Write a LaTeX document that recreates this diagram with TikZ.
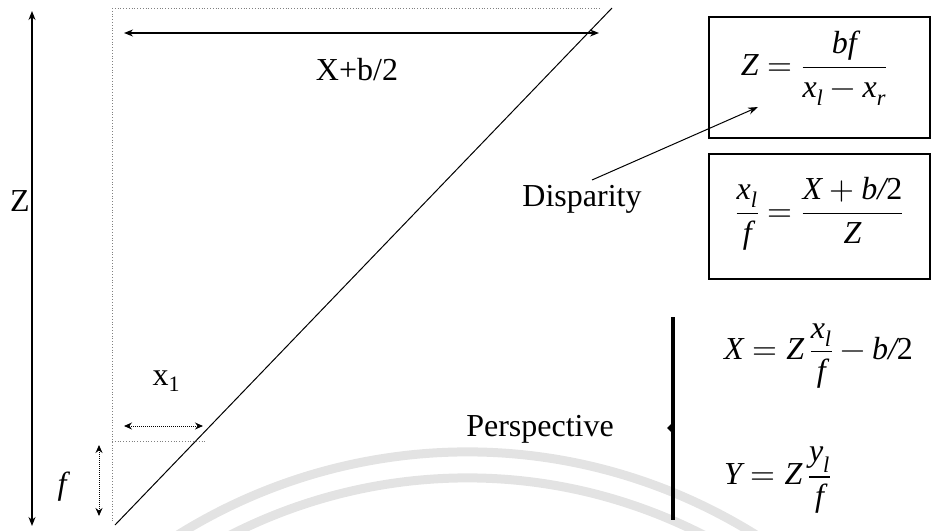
\documentclass[tikz,border=0pt]{standalone}
\usepackage{amsmath}
\usepackage{fontspec}
\usepackage{unicode-math}
\setmainfont{Liberation Serif}[ItalicFont={Liberation Serif Italic}]
\setmathfont{Latin Modern Math}
\newcommand{\mi}[1]{\textit{#1}}
\newcommand{\mup}[1]{\textup{#1}}
\usetikzlibrary{arrows.meta}
\tikzset{
  lbl/.style={inner sep=0pt, font=\fontsize{32}{38}\selectfont},
  eqn/.style={inner sep=0pt, font=\fontsize{32}{38}\selectfont},
  dimarrow/.style={line width=1.3pt, {Stealth[length=9pt,width=7pt]}-{Stealth[length=9pt,width=7pt]}},
  smallarrow/.style={line width=1pt, densely dotted, {Stealth[length=8pt,width=7pt]}-{Stealth[length=8pt,width=7pt]}},
  guide/.style={line width=0.8pt, gray, dotted},
  eqbox/.style={draw, line width=1.5pt, minimum width=221pt, minimum height=121pt, inner sep=0pt},
  wmark/.style={line width=9pt, gray!22},
}
\begin{document}
\begin{tikzpicture}[x=1pt,y=-1pt]
  \useasboundingbox (0,0) rectangle (936,530);
  % watermark
  \begin{scope}
    \clip (0,0) rectangle (936,530);
    \draw[wmark] (467,997) ++(-152:545) arc[start angle=-152, end angle=-28, radius=545];
    \draw[wmark] (467,997) ++(-152:519) arc[start angle=-152, end angle=-28, radius=519];
  \end{scope}
  % coordinates
  \coordinate (zt) at (32,11);
  \coordinate (zb) at (32,526);
  \coordinate (vt) at (112,8);
  \coordinate (vb) at (112,522);
  \coordinate (ht) at (600,8);
  \coordinate (d0) at (115,525);
  \coordinate (d1) at (612,8);
  \coordinate (xl) at (124,33);
  \coordinate (xr) at (599,33);
  \coordinate (sl) at (124,426);
  \coordinate (sr) at (203,426);
  \coordinate (hl) at (112,441);
  \coordinate (hr) at (205,441);
  \coordinate (ft) at (99,445);
  \coordinate (fb) at (99,516);
  \coordinate (bt) at (673,317);
  \coordinate (bb) at (673,520);
  \coordinate (dtip) at (758,107);
  % lines
  \draw[dimarrow] (zt) -- (zb);
  \draw[guide] (vt) -- (vb);
  \draw[guide] (vt) -- (ht);
  \draw[line width=1pt] (d0) -- (d1);
  \draw[dimarrow] (xl) -- (xr);
  \draw[smallarrow] (sl) -- (sr);
  \draw[guide] (hl) -- (hr);
  \draw[smallarrow] (ft) -- (fb);
  \draw[line width=3.5pt] (bt) -- (bb);
  \fill (671,424) -- (667,428) -- (671,432) -- cycle;
  % labels
  \node[lbl] (zlab) at (20,201) {Z};
  \node[lbl] (xblab) at (357,70) {X+b/2};
  \node[lbl] (x1lab) at (166,381) {x\raisebox{-0.2em}{\fontsize{22}{26}\selectfont 1}};
  \node[lbl] (flab) at (64,487) {\mi{f}};
  \node[lbl] (disp) at (582,199) {Disparity};
  \node[lbl] (persp) at (540,429) {Perspective};
  % boxes
  \node[eqbox] (box1) at (819.5,77.5) {};
  \node[eqn] (eq1) at (814,68) {$\displaystyle \mi{Z}=\frac{\mi{bf}}{\mi{x}_{\mi{l}}-\mi{x}_{\mi{r}}}$};
  \node[eqbox, minimum height=125pt] (box2) at (819.5,216.5) {};
  \node[eqn] (eq2) at (819.5,214) {$\displaystyle \frac{\mi{x}_{\mi{l}}}{\mi{f}}=\frac{\mi{X}+\mi{b}\mi{/}\mup{2}}{\mi{Z}}$};
  \node[eqn, anchor=west] (eq3) at (724,356) {$\displaystyle \mi{X}=\mi{Z}\,\frac{\mi{x}_{\mi{l}}}{\mi{f}}-\mi{b}\mi{/}\mup{2}$};
  \node[eqn, anchor=west] (eq4) at (724,480) {$\displaystyle \mi{Y}=\mi{Z}\,\frac{\mi{y}_{\mi{l}}}{\mi{f}}$};
  % disparity arrow
  \coordinate (dstart) at (592,180);
  \draw[line width=1pt, -{Stealth[length=10pt,width=7pt]}] (dstart) -- (dtip);
\end{tikzpicture}
\end{document}
